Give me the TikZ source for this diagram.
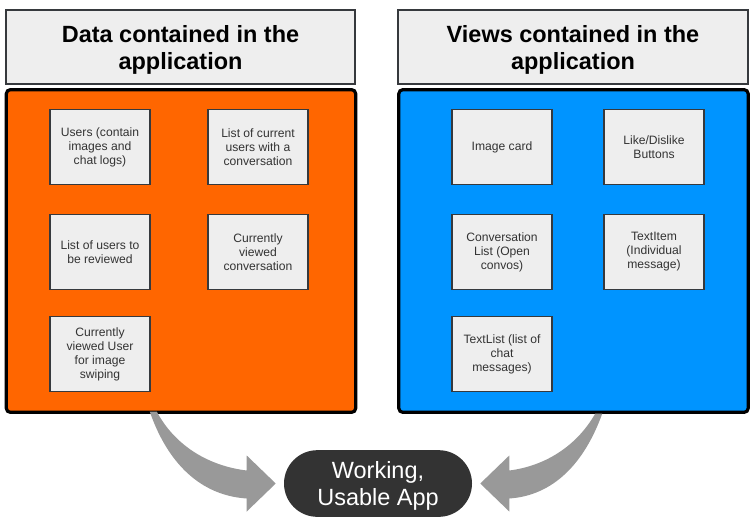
\documentclass[tikz,border=0pt]{standalone}
\usepackage{fontspec}
\setmainfont{Liberation Sans}
\usetikzlibrary{positioning}
\definecolor{boxfill}{HTML}{EEEEEE}
\definecolor{boxline}{HTML}{36393D}
\definecolor{orangepanel}{HTML}{FF6600}
\definecolor{bluepanel}{HTML}{0094FF}
\definecolor{arrowgrey}{HTML}{999999}
\definecolor{appfill}{HTML}{333333}
\definecolor{txtgrey}{HTML}{333333}
\tikzset{
  header/.style={draw=boxline, fill=boxfill, line width=1.5pt, minimum width=262pt, minimum height=55.5pt, inner sep=0pt},
  headertext/.style={align=center, font=\fontsize{17.6pt}{20.2pt}\selectfont\bfseries, inner sep=0pt, yshift=-2.4pt},
  panel/.style={draw=black, line width=2.4pt, rounded corners=3pt, minimum width=262pt, minimum height=242pt, inner sep=0pt},
  item/.style={draw=boxline, fill=boxfill, line width=1.1pt, minimum width=75pt, minimum height=56.25pt,
    align=center, text=txtgrey, font=\fontsize{9.1pt}{10.5pt}\selectfont, inner sep=0pt},
  app/.style={fill=appfill, rounded corners=25pt, minimum width=141pt, minimum height=50pt, inner sep=0pt},
  apptext/.style={align=center, text=white, font=\fontsize{17.6pt}{20.2pt}\selectfont, inner sep=0pt, yshift=-1.8pt},
  bigarrow/.style={fill=arrowgrey, draw=none}
}
\begin{document}
\begin{tikzpicture}[x=0.75pt, y=-0.75pt]
\useasboundingbox (0,0) rectangle (752,529);
% headers
\node[header, label={[headertext]center:Data contained in the\\application}] (hl) at (180.5,47) {};
\node[header, label={[headertext]center:Views contained in the\\application}] (hr) at (573,47) {};
% panels
\node[panel, fill=orangepanel] (pl) at (181,251) {};
\node[panel, fill=bluepanel] (pr) at (573.5,251) {};
% left items
\node[item] (l1) at (100,147) {Users (contain\\images and\\chat logs)};
\node[item] (l2) at (258,147) {List of current\\users with a\\conversation};
\node[item] (l3) at (100,252) {List of users to\\be reviewed};
\node[item] (l4) at (258,252) {Currently\\viewed\\conversation};
\node[item] (l5) at (100,354) {Currently\\viewed User\\for image\\swiping};
% right items
\node[item] (r1) at (502,147) {Image card};
\node[item] (r2) at (654,147) {Like/Dislike\\Buttons};
\node[item] (r3) at (502,252) {Conversation\\List (Open\\convos)};
\node[item] (r4) at (654,252) {TextItem\\(Individual\\message)};
\node[item] (r5) at (502,354) {TextList (list of\\chat\\messages)};
% app node
\node[app, label={[apptext]center:Working,\\Usable App}] (app) at (378,483.5) {};
% arrows
\begin{scope}[shift={([xshift=-6pt]app.west)}]
\fill[bigarrow] (-126,-72) .. controls (-108,-20) and (-75,12) .. (-29,15)
  -- (-29,28) -- (0,0) -- (-29,-28) -- (-29,-13)
  .. controls (-70,-18) and (-102,-40) .. (-119,-72) -- cycle;
\end{scope}
\begin{scope}[shift={([xshift=6pt]app.east)}, xscale=-1]
\fill[bigarrow] (-122,-70) .. controls (-104,-20) and (-73,12) .. (-29,15)
  -- (-29,28) -- (0,0) -- (-29,-28) -- (-29,-13)
  .. controls (-68,-18) and (-98,-40) .. (-115,-70) -- cycle;
\end{scope}
\end{tikzpicture}
\end{document}
